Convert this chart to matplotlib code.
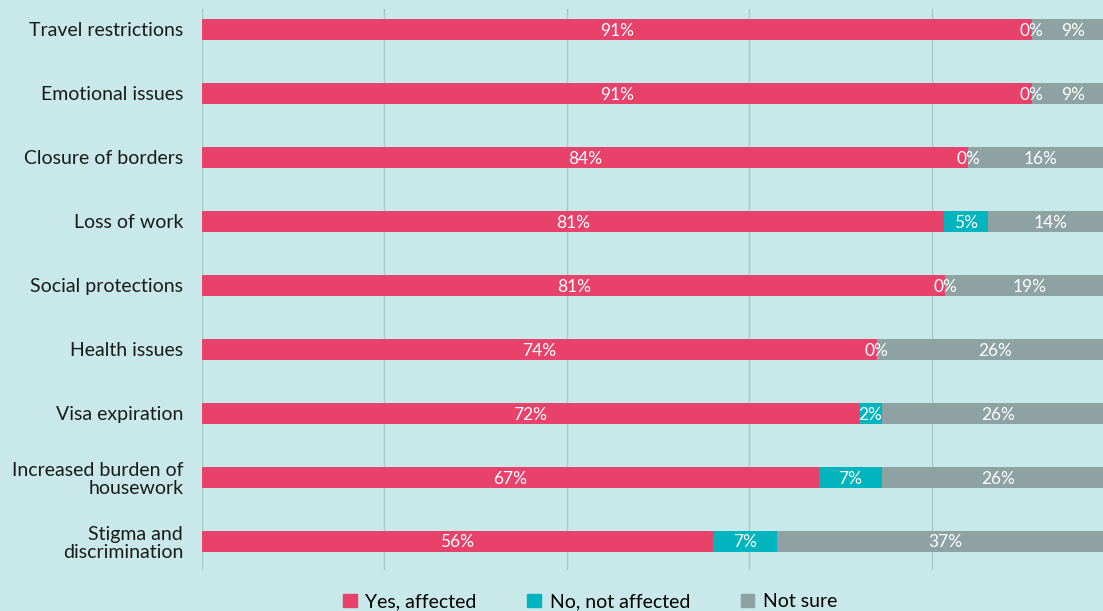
import matplotlib
matplotlib.use('Agg')
import matplotlib.pyplot as plt
from matplotlib.patches import Patch

plt.rcParams['font.family'] = ['Lato', 'DejaVu Sans']

# data (top to bottom)
categories = ['Travel restrictions', 'Emotional issues', 'Closure of borders',
              'Loss of work', 'Social protections', 'Health issues',
              'Visa expiration', 'Increased burden of\nhousework',
              'Stigma and\ndiscrimination']
yes_vals = [91, 91, 84, 81.4, 81.5, 74, 72, 67.6, 56]
no_vals = [0, 0, 0, 4.8, 0, 0, 2.6, 7, 7]
unsure_vals = [9, 9, 16, 13.8, 18.5, 26, 25.4, 25.4, 37]
yes_labels = ['91%', '91%', '84%', '81%', '81%', '74%', '72%', '67%', '56%']
no_labels = ['0%', '0%', '0%', '5%', '0%', '0%', '2%', '7%', '7%']
unsure_labels = ['9%', '9%', '16%', '14%', '19%', '26%', '26%', '26%', '37%']
series_names = ['Yes, affected', 'No, not affected', 'Not sure']

bg = '#c9e8ea'
colors = ['#e8426b', '#00b5bd', '#8ea1a3']

fig = plt.figure(figsize=(11.03, 6.11), dpi=100, facecolor=bg)
# plot area runs past the right edge, like the original
ax = fig.add_axes([202 / 1103, 41 / 611, 912 / 1103, 561 / 611])
ax.set_facecolor(bg)

y = list(range(len(categories)))
left = [0] * len(y)
for vals, labs, c in zip([yes_vals, no_vals, unsure_vals],
                         [yes_labels, no_labels, unsure_labels], colors):
    ax.barh(y, vals, left=left, height=0.33, color=c, zorder=2)
    for i in y:
        ax.text(left[i] + vals[i] / 2, i + 0.02, labs[i], ha='center', va='center',
                color='white', fontsize=12.5, zorder=3)
    left = [l + v for l, v in zip(left, vals)]

ax.set_xlim(0, 100)
ax.set_ylim(8.45, -0.32)
ax.set_xticks([0, 20, 40, 60, 80])
ax.set_yticks(y)
ax.set_yticklabels(categories, fontsize=14, color='#1a1a1a', linespacing=1.1)
ax.tick_params(axis='both', length=0, pad=13.5)
ax.tick_params(axis='x', labelbottom=False)
ax.grid(axis='x', color='#a8c6c8', linewidth=1, zorder=0)
for s in ax.spines.values():
    s.set_visible(False)

handles = [Patch(color=c) for c in colors]
fig.legend(handles, series_names, loc='center', bbox_to_anchor=(0.535, 0.015),
           ncol=3, frameon=False, fontsize=14, handlelength=0.7,
           handleheight=0.7, handletextpad=0.45, columnspacing=2.6)

fig.savefig('out.png', dpi=100, facecolor=bg)
